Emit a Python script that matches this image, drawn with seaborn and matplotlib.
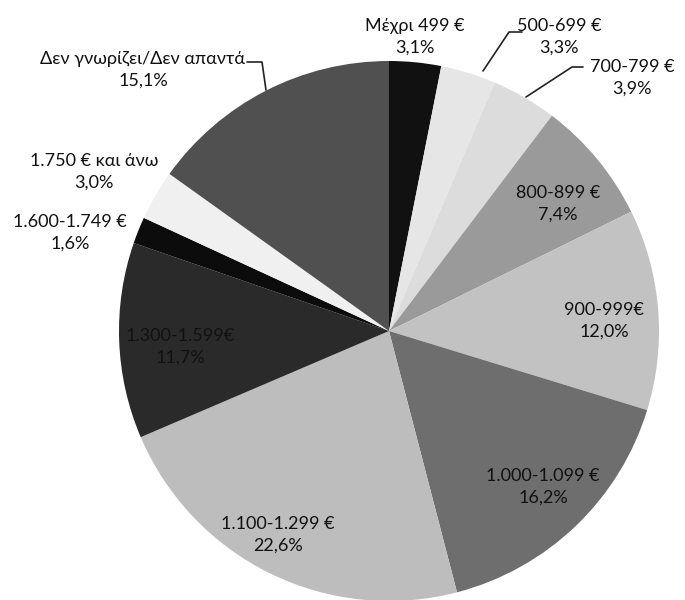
import matplotlib
matplotlib.use("Agg")
import matplotlib.pyplot as plt
import seaborn as sns

categories = ["Μέχρι 499 €", "500-699 €", "700-799 €", "800-899 €", "900-999€",
              "1.000-1.099 €", "1.100-1.299 €", "1.300-1.599€", "1.600-1.749 €",
              "1.750 € και άνω", "Δεν γνωρίζει/Δεν απαντά"]
values = [3.1, 3.3, 3.9, 7.4, 12.0, 16.2, 22.6, 11.7, 1.6, 3.0, 15.1]
pct_labels = ["3,1%", "3,3%", "3,9%", "7,4%", "12,0%", "16,2%", "22,6%",
              "11,7%", "1,6%", "3,0%", "15,1%"]

colors = ["#111111", "#e6e6e6", "#dcdcdc", "#9a9a9a", "#c2c2c2", "#6e6e6e",
          "#bdbdbd", "#2a2a2a", "#0c0c0c", "#f0f0f0", "#505050"]

# label centres in image pixels (x, y from top)
label_px = [(415, 37), (559, 37), (632, 78), (558, 204), (604, 321),
            (543, 487), (278, 535), (180, 347), (70, 233), (94, 172), (143, 70)]
# leader lines in image pixels
leaders = [
    [(522, 32), (509, 32), (483, 71)],
    [(583, 67), (572, 67), (526, 97)],
    [(247, 62), (262, 62), (266, 90)],
]

sns.set_theme(style="white")
plt.rcParams["font.family"] = ["Lato", "DejaVu Sans"]

W, H = 685, 600
cx, cy, R = 389, 331, 270
fig = plt.figure(figsize=(W / 100, H / 100), dpi=100)
fig.patch.set_facecolor("white")
ax = fig.add_axes([(cx - R) / W, (H - cy - R) / H, 2 * R / W, 2 * R / H])
ax.pie(values, colors=colors, startangle=90, counterclock=False,
       radius=1.0, wedgeprops=dict(linewidth=0))
ax.set_xlim(-1, 1)
ax.set_ylim(-1, 1)
ax.set_aspect("equal")
ax.axis("off")


def to_data(px, py):
    return (px - cx) / R, (cy - py) / R


for cat, pct, (px, py) in zip(categories, pct_labels, label_px):
    x, y = to_data(px, py)
    ax.text(x, y, f"{cat}\n{pct}", ha="center", va="center", fontsize=13,
            color="#111111", linespacing=1.45, clip_on=False)

for line in leaders:
    pts = [to_data(px, py) for px, py in line]
    ax.plot([p[0] for p in pts], [p[1] for p in pts], color="#222222",
            lw=1.2, clip_on=False)

fig.savefig("out.png", dpi=100, facecolor="white")
